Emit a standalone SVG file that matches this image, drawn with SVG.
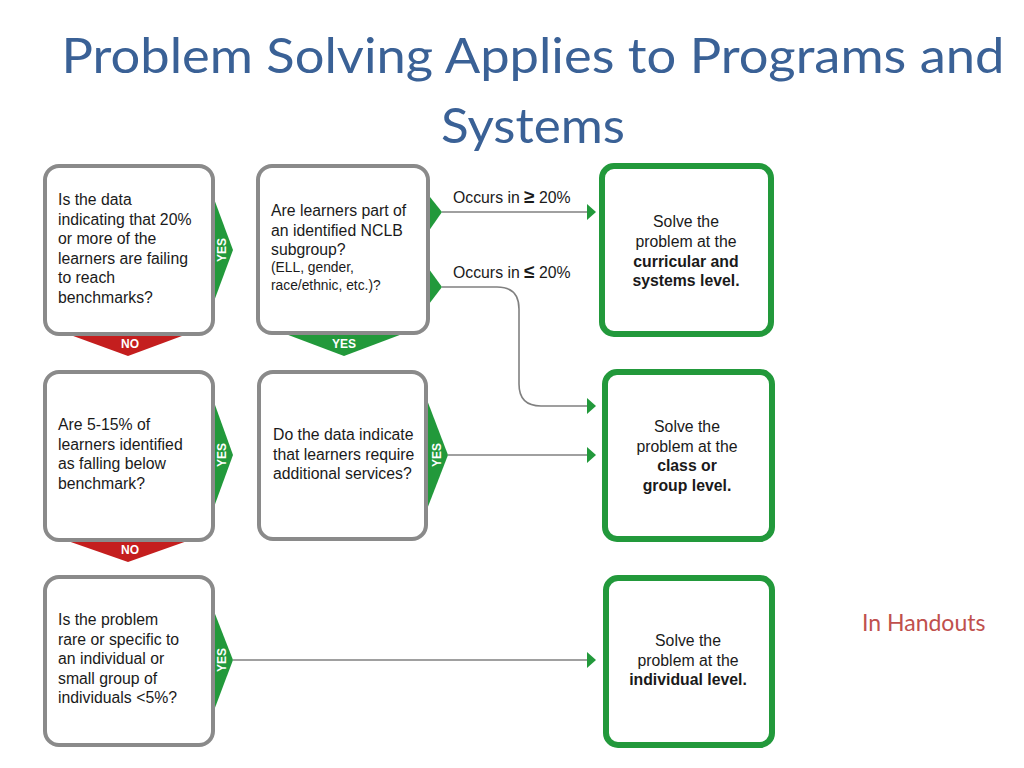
<svg xmlns="http://www.w3.org/2000/svg" width="1024" height="768" viewBox="0 0 1024 768">
<style>
.title{font-family:Lato,"Open Sans","Liberation Sans",sans-serif;font-size:49px;fill:#3A6196;text-anchor:middle}
.note{font-family:Lato,"Open Sans","Liberation Sans",sans-serif;font-size:23px;fill:#C0504D}
.q{fill:#fff;stroke:#8A8A8A;stroke-width:4}
.a{fill:#fff;stroke:#22993B;stroke-width:6}
.t{font-family:"Liberation Sans",Arial,sans-serif;font-size:15.8px;fill:#1a1a1a}
.s{font-size:13.8px}
.c{text-anchor:middle}
.b{font-weight:bold}
.yes{fill:#22993B}
.no{fill:#C41E1E}
.lab{font-family:"Liberation Sans",Arial,sans-serif;font-size:12px;font-weight:bold;fill:#fff;text-anchor:middle}
.ln{fill:none;stroke:#808080;stroke-width:1.6}
.ol{font-family:"Liberation Sans",Arial,sans-serif;font-size:15.8px;fill:#1a1a1a}
</style>
<defs>
<marker id="ah" viewBox="0 0 10 16" refX="1" refY="8" markerWidth="10" markerHeight="16" markerUnits="userSpaceOnUse" orient="auto">
<path d="M0,0 L9,8 L0,16 Z" fill="#22993B"/>
</marker>
</defs>

<text class="title" x="533" y="73" textLength="943" lengthAdjust="spacingAndGlyphs">Problem Solving Applies to Programs and</text>
<text class="title" x="533" y="143" textLength="184" lengthAdjust="spacingAndGlyphs">Systems</text>

<g id="connectors">
<path class="ln" d="M442,212 H588" marker-end="url(#ah)"/>
<path class="ln" d="M442,287 H497 Q519,287 519,309 V384 Q519,406 541,406 H588" marker-end="url(#ah)"/>
<path class="ln" d="M448,455 H588" marker-end="url(#ah)"/>
<path class="ln" d="M233,660 H588" marker-end="url(#ah)"/>
<text class="ol" x="453" y="203">Occurs in <tspan font-weight="bold" font-size="19px">≥</tspan> 20%</text>
<text class="ol" x="453" y="278">Occurs in <tspan font-weight="bold" font-size="19px">≤</tspan> 20%</text>
</g>

<g id="q1">
<polygon class="yes" points="210,188 233,250 210,312"/>
<polygon class="no" points="65,333 190,333 128,356"/>
<rect class="q" x="45" y="166" width="168" height="168" rx="14"/>
<text class="t" x="58" y="205">Is the data</text>
<text class="t" x="58" y="224.5">indicating that 20%</text>
<text class="t" x="58" y="244">or more of the</text>
<text class="t" x="58" y="263.5">learners are failing</text>
<text class="t" x="58" y="283">to reach</text>
<text class="t" x="58" y="302.5">benchmarks?</text>
<text class="lab" transform="translate(226,250) rotate(-90)">YES</text>
<text class="lab" x="130" y="348">NO</text>
</g>

<g id="q2">
<polygon class="yes" points="426,192 442,212 426,235"/>
<polygon class="yes" points="426,265 442,287 426,308"/>
<polygon class="yes" points="283,333 405,333 344,356"/>
<rect class="q" x="258" y="166" width="170" height="167" rx="14"/>
<text class="t" x="271" y="216">Are learners part of</text>
<text class="t" x="271" y="235.5">an identified NCLB</text>
<text class="t" x="271" y="255">subgroup?</text>
<text class="t s" x="271" y="272">(ELL, gender,</text>
<text class="t s" x="271" y="290">race/ethnic, etc.)?</text>
<text class="lab" x="344" y="348">YES</text>
</g>

<g id="a1">
<rect class="a" x="602" y="166" width="169" height="168" rx="12"/>
<text class="t c" x="686" y="227">Solve the</text>
<text class="t c" x="686" y="247">problem at the</text>
<text class="t c b" x="686" y="267">curricular and</text>
<text class="t c b" x="686" y="286">systems level.</text>
</g>

<g id="q3">
<polygon class="yes" points="210,391 233,455 210,518"/>
<polygon class="no" points="65,540 190,540 128,562"/>
<rect class="q" x="45" y="372" width="168" height="168" rx="14"/>
<text class="t" x="58" y="430">Are 5-15% of</text>
<text class="t" x="58" y="449.5">learners identified</text>
<text class="t" x="58" y="469">as falling below</text>
<text class="t" x="58" y="488.5">benchmark?</text>
<text class="lab" transform="translate(226,455) rotate(-90)">YES</text>
<text class="lab" x="130" y="554">NO</text>
</g>

<g id="q4">
<polygon class="yes" points="424,392 448,455 424,517"/>
<rect class="q" x="259" y="372" width="167" height="167" rx="14"/>
<text class="t" x="273" y="440">Do the data indicate</text>
<text class="t" x="273" y="459.5">that learners require</text>
<text class="t" x="273" y="479">additional services?</text>
<text class="lab" transform="translate(441,455) rotate(-90)">YES</text>
</g>

<g id="a2">
<rect class="a" x="605" y="372" width="167" height="167" rx="12"/>
<text class="t c" x="687" y="432">Solve the</text>
<text class="t c" x="687" y="452">problem at the</text>
<text class="t c b" x="687" y="471">class or</text>
<text class="t c b" x="687" y="491">group level.</text>
</g>

<g id="q5">
<polygon class="yes" points="210,601 233,660 210,721"/>
<rect class="q" x="45" y="577" width="168" height="168" rx="14"/>
<text class="t" x="58" y="625">Is the problem</text>
<text class="t" x="58" y="644.5">rare or specific to</text>
<text class="t" x="58" y="664">an individual or</text>
<text class="t" x="58" y="683.5">small group of</text>
<text class="t" x="58" y="703">individuals &lt;5%?</text>
<text class="lab" transform="translate(226,660) rotate(-90)">YES</text>
</g>

<g id="a3">
<rect class="a" x="606" y="578" width="166" height="167" rx="12"/>
<text class="t c" x="688" y="646">Solve the</text>
<text class="t c" x="688" y="666">problem at the</text>
<text class="t c b" x="688" y="685">individual level.</text>
</g>

<text class="note" x="862" y="631">In Handouts</text>
</svg>
